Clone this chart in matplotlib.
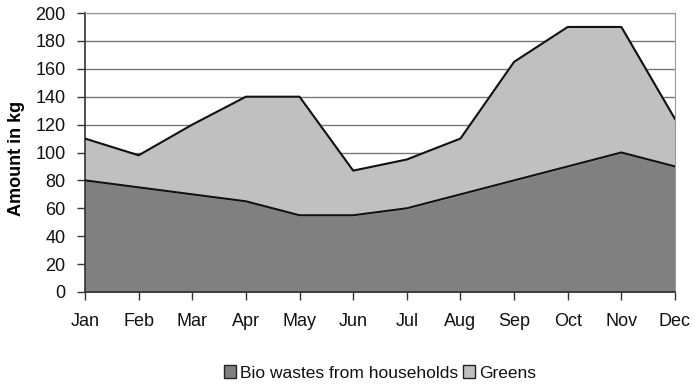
import numpy as np
import matplotlib.pyplot as plt
from matplotlib.patches import Patch

plt.rcParams['font.family'] = ['Liberation Sans', 'DejaVu Sans']

# Monthly amounts (kg)
months = ['Jan', 'Feb', 'Mar', 'Apr', 'May', 'Jun', 'Jul', 'Aug', 'Sep', 'Oct', 'Nov', 'Dec']
bio_wastes = [80, 75, 70, 65, 55, 55, 60, 70, 80, 90, 100, 90]
greens = [30, 23, 50, 75, 85, 32, 35, 40, 85, 100, 90, 34]

def plotting():
    x = np.arange(len(months))
    bottom = np.array(bio_wastes)
    total = bottom + np.array(greens)

    fig = plt.figure(figsize=(6.95, 3.86), dpi=100)
    ax = fig.add_axes([85 / 695, 1 - 292 / 386, 590 / 695, 279 / 386])

    # stacked areas
    ax.fill_between(x, 0, bottom, color='#808080', zorder=2)
    ax.fill_between(x, bottom, total, color='#c0c0c0', zorder=2)
    ax.plot(x, bottom, color='#111111', lw=1.5, zorder=3)
    ax.plot(x, total, color='#111111', lw=1.5, zorder=3)

    ax.set_xlim(0, len(months) - 1)
    ax.set_ylim(0, 200)
    ax.set_yticks(range(0, 201, 20))
    ax.set_xticks(x)
    ax.set_xticklabels(months)
    ax.tick_params(axis='both', labelsize=13, color='#333333', length=6, width=1,
                   labelcolor='#111111')
    ax.tick_params(axis='x', pad=9)
    ax.tick_params(axis='y', pad=8)
    ax.grid(axis='y', color='#777777', lw=1, zorder=1)

    for side in ['top', 'right']:
        ax.spines[side].set_color('#999999')
    for side in ['left', 'bottom']:
        ax.spines[side].set_color('#333333')
        ax.spines[side].set_linewidth(1.2)

    ax.set_ylabel('Amount in kg', fontsize=13, fontweight='bold')
    ax.yaxis.set_label_coords(-60 / 590, 0.48)

    handles = [Patch(facecolor='#808080', edgecolor='#222222', label='Bio wastes from households'),
               Patch(facecolor='#c0c0c0', edgecolor='#222222', label='Greens')]
    fig.legend(handles=handles, loc='center', bbox_to_anchor=(380 / 695, 1 - 373 / 386),
               ncol=2, frameon=False, fontsize=12.5, handlelength=0.7, handleheight=0.7,
               handletextpad=0.2, columnspacing=0.3, labelcolor='#111111')

    plt.savefig('out.png', dpi=100)

plotting()
